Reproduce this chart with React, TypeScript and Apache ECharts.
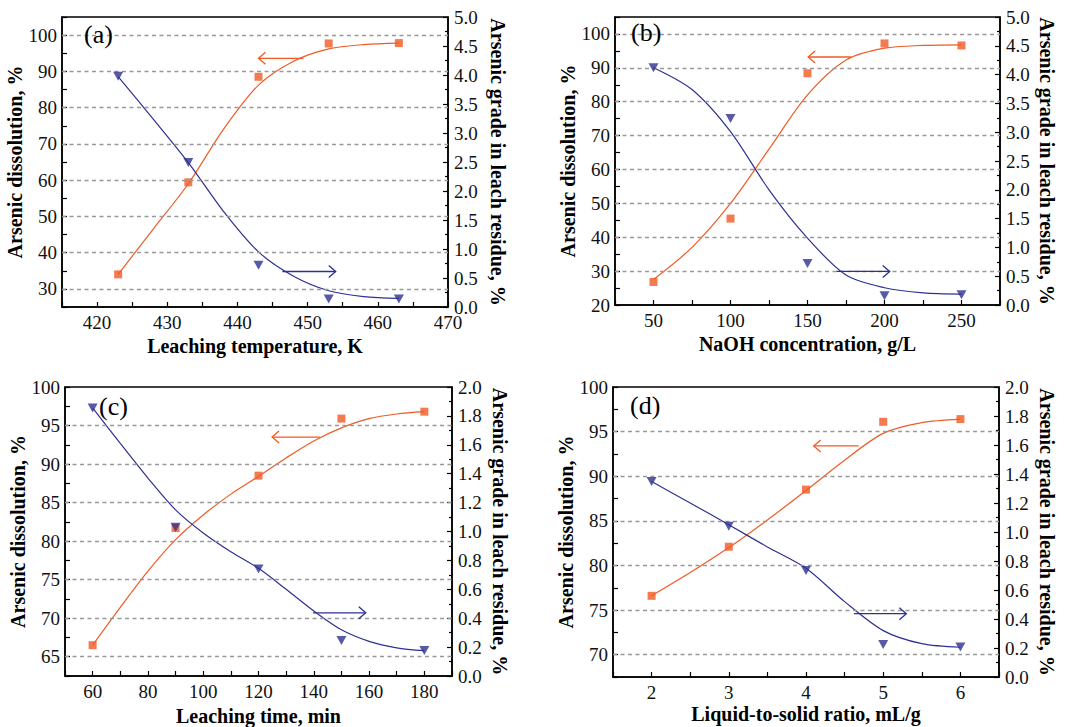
import React, { useEffect, useRef } from "react";
import * as echarts from "echarts";

// ---------- (a) Leaching temperature ----------
const tempX = [423, 433, 443, 453, 463];
const tempDiss = [34.0, 59.4, 88.5, 97.7, 97.8];
const tempGrade = [3.98, 2.49, 0.72, 0.14, 0.14];
const tempFitX = [423, 428, 433, 438, 443, 448, 453, 458, 463];
const tempFitDiss = [34.0, 46.5, 59.0, 74.0, 86.2, 92.8, 96.2, 97.4, 97.8];
const tempFitGrade = [3.97, 3.24, 2.49, 1.65, 0.95, 0.53, 0.28, 0.18, 0.15];

// ---------- (b) NaOH concentration ----------
const naohX = [50, 100, 150, 200, 250];
const naohDiss = [26.8, 45.5, 88.4, 97.2, 96.6];
const naohGrade = [4.12, 3.24, 0.72, 0.16, 0.18];
const naohFitX = [50, 75, 100, 125, 150, 175, 200, 225, 250];
const naohFitDiss = [27.5, 37.0, 50.0, 66.0, 82.0, 92.3, 95.8, 96.6, 96.8];
const naohFitGrade = [4.12, 3.74, 3.01, 2.0, 1.16, 0.52, 0.3, 0.21, 0.19];

// ---------- (c) Leaching time ----------
const timeX = [60, 90, 120, 150, 180];
const timeDiss = [66.5, 81.7, 88.5, 95.9, 96.8];
const timeGrade = [1.855, 1.03, 0.74, 0.246, 0.177];
const timeFitX = [60, 70, 80, 90, 100, 110, 120, 130, 140, 150, 160, 170, 180];
const timeFitDiss = [66.5, 71.4, 76.1, 80.2, 83.4, 86.1, 88.4, 90.8, 93.0, 94.7, 95.9, 96.5, 96.8];
const timeFitGrade = [1.855, 1.61, 1.37, 1.15, 0.99, 0.86, 0.745, 0.6, 0.45, 0.32, 0.24, 0.195, 0.175];

// ---------- (d) Liquid-to-solid ratio ----------
const ratioX = [2, 3, 4, 5, 6];
const ratioDiss = [76.6, 82.1, 88.5, 96.1, 96.4];
const ratioGrade = [1.348, 1.04, 0.735, 0.224, 0.207];
const ratioFitX = [2, 2.5, 3, 3.5, 4, 4.5, 5, 5.5, 6];
const ratioFitDiss = [76.6, 79.2, 82.0, 85.1, 88.4, 91.8, 94.8, 96.0, 96.4];
const ratioFitGrade = [1.348, 1.2, 1.05, 0.897, 0.75, 0.52, 0.32, 0.23, 0.205];

// dashed reference lines (left-axis values)
const gridA = [30, 40, 50, 60, 70, 80, 90, 100];
const gridB = [30, 40, 50, 60, 70, 80, 90, 100];
const gridC = [65, 70, 75, 80, 85, 90, 95];
const gridD = [70, 75, 80, 85, 90, 95];

// arrows: [fromX, toX, leftAxisY]
const arrowsA = { orange: [449.4, 443, 93.6], blue: [446.4, 454, 34.8] };
const arrowsB = { orange: [178.5, 150.4, 93.2], blue: [168.8, 203.4, 29.9] };
const arrowsC = { orange: [142.2, 124.9, 93.5], blue: [139.7, 158.8, 70.7] };
const arrowsD = { orange: [4.68, 4.1, 93.4], blue: [4.62, 5.3, 74.6] };

const ORANGE = "#F15A24";
const BLUE = "#2E3192";
const FONT = '"Liberation Serif", "Times New Roman", serif';

const zip = (xs: number[], ys: number[]) => xs.map((x, i) => [x, ys[i]]);
const onStep = (v: number, base: number, step: number) => {
  const q = (v - base) / step;
  return Math.abs(q - Math.round(q)) < 1e-6;
};

const panels = [
  {
    tag: "(a)", tagOff: [22, 19],
    grid: { left: 62, top: 17, width: 386, height: 290 },
    xName: "Leaching temperature, K", xNameGap: 29,
    x: { min: 415, max: 470, interval: 5, base: 420, step: 10 },
    yL: { min: 25, max: 105, interval: 5, base: 0, step: 10 },
    yR: { min: 0, max: 5, interval: 0.5 },
    lGap: 29, rGap: 40,
    xs: tempX, diss: tempDiss, grade: tempGrade,
    fitDiss: zip(tempFitX, tempFitDiss), fitGrade: zip(tempFitX, tempFitGrade),
    lines: gridA, arrows: arrowsA,
  },
  {
    tag: "(b)", tagOff: [16, 17],
    grid: { left: 615, top: 17, width: 385, height: 288 },
    xName: "NaOH concentration, g/L", xNameGap: 29,
    x: { min: 25, max: 275, interval: 25, base: 0, step: 50 },
    yL: { min: 20, max: 105, interval: 5, base: 0, step: 10 },
    yR: { min: 0, max: 5, interval: 0.5 },
    lGap: 30, rGap: 37,
    xs: naohX, diss: naohDiss, grade: naohGrade,
    fitDiss: zip(naohFitX, naohFitDiss), fitGrade: zip(naohFitX, naohFitGrade),
    lines: gridB, arrows: arrowsB,
  },
  {
    tag: "(c)", tagOff: [34, 21],
    grid: { left: 65, top: 387, width: 387, height: 290 },
    xName: "Leaching time, min", xNameGap: 30,
    x: { min: 50, max: 190, interval: 10, base: 60, step: 20 },
    yL: { min: 62.5, max: 100, interval: 2.5, base: 0, step: 5 },
    yR: { min: 0, max: 2, interval: 0.2 },
    lGap: 30, rGap: 38,
    xs: timeX, diss: timeDiss, grade: timeGrade,
    fitDiss: zip(timeFitX, timeFitDiss), fitGrade: zip(timeFitX, timeFitGrade),
    lines: gridC, arrows: arrowsC,
  },
  {
    tag: "(d)", tagOff: [17, 20],
    grid: { left: 613, top: 387, width: 386, height: 290 },
    xName: "Liquid-to-solid ratio, mL/g", xNameGap: 27,
    x: { min: 1.5, max: 6.5, interval: 0.5, base: 0, step: 1 },
    yL: { min: 67.5, max: 100, interval: 2.5, base: 0, step: 5 },
    yR: { min: 0, max: 2, interval: 0.2 },
    lGap: 31, rGap: 38,
    xs: ratioX, diss: ratioDiss, grade: ratioGrade,
    fitDiss: zip(ratioFitX, ratioFitDiss), fitGrade: zip(ratioFitX, ratioFitGrade),
    lines: gridD, arrows: arrowsD,
  },
];

const axisLine = { show: true, lineStyle: { color: "#000", width: 1.5 } };
const tickStyle = { color: "#000", width: 1.2 };
const labelStyle = { color: "#111", fontFamily: FONT, fontSize: 19 };
const nameStyle = { color: "#000", fontFamily: FONT, fontSize: 20, fontWeight: "bold" as const };

function buildOption() {
  const grid: any[] = [];
  const xAxis: any[] = [];
  const yAxis: any[] = [];
  const series: any[] = [];
  const graphic: any[] = [];

  panels.forEach((p, i) => {
    grid.push({
      ...p.grid,
      show: true,
      borderColor: "#000",
      borderWidth: 1.5,
      backgroundColor: "transparent",
      containLabel: false,
    });
    xAxis.push({
      gridIndex: i,
      type: "value",
      min: p.x.min,
      max: p.x.max,
      interval: p.x.interval,
      axisLine,
      axisTick: { show: true, inside: true, length: 5, lineStyle: tickStyle },
      splitLine: { show: false },
      axisLabel: {
        ...labelStyle,
        margin: 6,
        showMinLabel: true,
        showMaxLabel: true,
        formatter: (v: number) => (onStep(v, p.x.base, p.x.step) && v >= p.xs[0] - 5 ? String(+v.toFixed(2)) : ""),
      },
      name: p.xName,
      nameLocation: "middle",
      nameGap: p.xNameGap,
      nameTextStyle: nameStyle,
    });
    yAxis.push({
      gridIndex: i,
      type: "value",
      position: "left",
      min: p.yL.min,
      max: p.yL.max,
      interval: p.yL.interval,
      axisLine,
      axisTick: { show: true, inside: true, length: 5, lineStyle: tickStyle },
      splitLine: { show: false },
      axisLabel: {
        ...labelStyle,
        margin: 5,
        formatter: (v: number) => (onStep(v, p.yL.base, p.yL.step) && v <= 100 ? String(Math.round(v)) : ""),
      },
      name: "Arsenic dissolution, %",
      nameLocation: "middle",
      nameGap: p.lGap,
      nameTextStyle: nameStyle,
    });
    yAxis.push({
      gridIndex: i,
      type: "value",
      position: "right",
      min: p.yR.min,
      max: p.yR.max,
      interval: p.yR.interval,
      axisLine,
      axisTick: { show: true, inside: true, length: 5, lineStyle: tickStyle },
      minorTick: { show: true, splitNumber: 2, length: 3, lineStyle: tickStyle },
      splitLine: { show: false },
      axisLabel: {
        ...labelStyle,
        margin: 6,
        formatter: (v: number) => v.toFixed(1),
      },
      name: "Arsenic grade in leach residue, %",
      nameLocation: "middle",
      nameRotate: -90,
      nameGap: p.rGap,
      nameTextStyle: nameStyle,
    });

    const yl = 2 * i;
    const yr = 2 * i + 1;
    series.push({
      type: "line",
      xAxisIndex: i,
      yAxisIndex: yl,
      data: [],
      silent: true,
      z: 1,
      markLine: {
        silent: true,
        symbol: ["none", "none"],
        label: { show: false },
        lineStyle: { color: "#999", type: [4, 3.5], width: 1.3 },
        data: p.lines.map((v) => ({ yAxis: v })),
      },
    });
    series.push({
      type: "line",
      xAxisIndex: i,
      yAxisIndex: yl,
      data: p.fitDiss,
      smooth: 0.3,
      showSymbol: false,
      lineStyle: { color: ORANGE, width: 1.2 },
      z: 3,
    });
    series.push({
      type: "line",
      xAxisIndex: i,
      yAxisIndex: yr,
      data: p.fitGrade,
      smooth: 0.3,
      showSymbol: false,
      lineStyle: { color: BLUE, width: 1.2 },
      z: 3,
    });
    series.push({
      type: "scatter",
      xAxisIndex: i,
      yAxisIndex: yl,
      data: zip(p.xs, p.diss),
      symbol: "rect",
      symbolSize: 8,
      itemStyle: { color: ORANGE },
      z: 4,
    });
    series.push({
      type: "scatter",
      xAxisIndex: i,
      yAxisIndex: yr,
      data: zip(p.xs, p.grade),
      symbol: "triangle",
      symbolRotate: 180,
      symbolSize: [10, 9],
      itemStyle: { color: BLUE },
      z: 5,
    });

    graphic.push({
      type: "text",
      left: p.grid.left + p.tagOff[0],
      top: p.grid.top + p.tagOff[1] - 15,
      style: { text: p.tag, fill: "#000", font: `26px ${FONT}` },
      z: 10,
    });
  });

  return { animation: false, grid, xAxis, yAxis, series, graphic };
}

function arrowGraphics(chart: any) {
  const out: any[] = [];
  panels.forEach((p, i) => {
    const finder = { xAxisIndex: i, yAxisIndex: 2 * i };
    const mk = (arr: number[], color: string) => {
      const a = chart.convertToPixel(finder, [arr[0], arr[2]]);
      const b = chart.convertToPixel(finder, [arr[1], arr[2]]);
      if (!a || !b) return;
      const dir = b[0] < a[0] ? 1 : -1;
      out.push({
        type: "line",
        shape: { x1: a[0], y1: a[1], x2: b[0], y2: b[1] },
        style: { stroke: color, lineWidth: 1.3 },
        z: 6,
      });
      out.push({
        type: "polyline",
        shape: { points: [[b[0] + dir * 7, b[1] - 6], [b[0], b[1]], [b[0] + dir * 7, b[1] + 6]] },
        style: { stroke: color, lineWidth: 1.3, fill: "none" },
        z: 6,
      });
    };
    mk(p.arrows.orange, ORANGE);
    mk(p.arrows.blue, BLUE);
  });
  return out;
}

export default function App() {
  const ref = useRef<HTMLDivElement>(null);
  useEffect(() => {
    if (!ref.current) return;
    const chart = echarts.init(ref.current, undefined, { renderer: "svg" });
    const option: any = buildOption();
    chart.setOption(option);
    const arrows = arrowGraphics(chart);
    chart.setOption({ graphic: [...option.graphic, ...arrows] }, { replaceMerge: ["graphic"] });
    return () => chart.dispose();
  }, []);
  return (
    <div
      ref={ref}
      style={{ position: "fixed", left: 0, top: 0, width: 1067, height: 727, background: "#fff" }}
    />
  );
}
